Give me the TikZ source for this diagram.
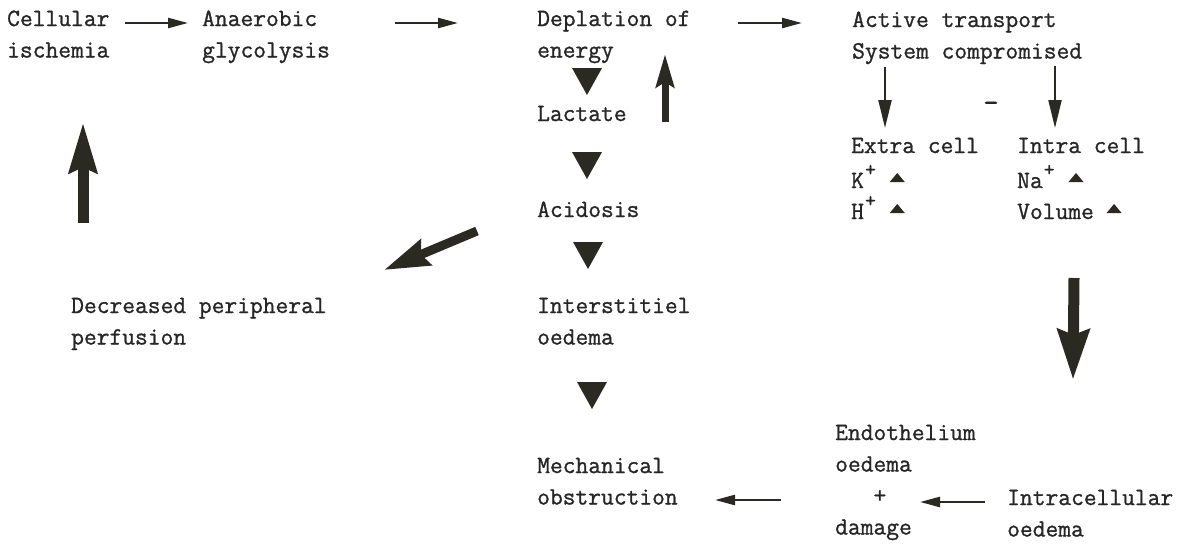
\documentclass[tikz,border=0pt]{standalone}
\usepackage{fontspec}
\usetikzlibrary{arrows.meta,calc}
\newfontfamily\twfont[FakeBold=1]{Latin Modern Mono}
\definecolor{ink}{HTML}{2B2A22}
\definecolor{inkt}{HTML}{262626}
\newcommand\mylines[1]{\begin{tabular}[t]{@{}l@{}}#1\end{tabular}}
\newcommand\uptri{\tikz[baseline=-6pt]\fill[ink] (0pt,0pt)--(15pt,0pt)--(7.5pt,9pt)--cycle;}
\newcommand\upplus{\makebox[13pt]{\raisebox{12pt}{\fontsize{21}{21}\selectfont +}}}
\begin{document}
\begin{tikzpicture}[x=1pt,y=-1pt,
  txt/.style={anchor=base west,inner sep=0pt,text=inkt,font=\twfont\fontsize{24.8}{31.5}\selectfont},
  thinarrow/.style={draw=ink,line width=2.4pt,-{Triangle[length=20pt,width=10pt]}},
  dropline/.style={draw=ink,line width=2.2pt,-{Triangle[length=28pt,width=13pt]}},
  bigarrow/.style n args={3}{draw=ink,line width=#1,-{Stealth[length=#3,width=#2,inset=5pt]}},
  downtri/.pic={\fill[ink] (-15,-13)--(15,-13)--(0,14)--cycle;}]
\fill[white] (0,0) rectangle (1191,544);
\useasboundingbox (0,0) rectangle (1191,544);
% text nodes
\node[txt] (cellular) at (7,26) {\mylines{Cellular\\ischemia}};
\node[txt] (anaerobic) at (202,26) {\mylines{Anaerobic\\glycolysis}};
\node[txt] (deplation) at (537,26) {\mylines{Deplation of\\energy}};
\node[txt] (active) at (852,27) {\mylines{Active transport\\System compromised}};
\node[txt] (lactate) at (537,121) {Lactate};
\node[txt] (acidosis) at (537,217) {Acidosis};
\node[txt] (interst) at (537,313) {\mylines{Interstitiel\\oedema}};
\node[txt] (mech) at (537,473) {\mylines{Mechanical\\obstruction}};
\node[txt] (decreased) at (71,313) {\mylines{Decreased peripheral\\perfusion}};
\node[txt] (extra) at (851,153) {Extra cell};
\node[txt] (kion) at (851,188) {K\upplus\ \uptri};
\node[txt] (hion) at (851,219) {H\upplus\ \uptri};
\node[txt] (intra) at (1017,153) {Intra cell};
\node[txt] (naion) at (1017,188) {Na\upplus\ \uptri};
\node[txt] (volume) at (1017,219) {Volume \uptri};
\node[txt,anchor=base,font=\twfont\fontsize{30}{30}\selectfont] (minus) at (991,112) {-};
\node[txt] (endo) at (835,440) {\mylines{Endothelium\\oedema\\\ \ \ +\\damage}};
\node[txt] (intracell) at (1007,505) {\mylines{Intracellular\\oedema}};
% arrow end points
\coordinate (a1s) at (125,23);  \coordinate (a1e) at (188,23);
\coordinate (a2s) at (395,23);  \coordinate (a2e) at (458,23);
\coordinate (a3s) at (738,23);  \coordinate (a3e) at (802,23);
\coordinate (d1s) at (885,67);  \coordinate (d1e) at (885,128);
\coordinate (d2s) at (1055,66); \coordinate (d2e) at (1055,128);
\coordinate (b1s) at (781,500); \coordinate (b1e) at (715,500);
\coordinate (b2s) at (985,502); \coordinate (b2e) at (920,502);
\coordinate (u1s) at (83,223);  \coordinate (u1e) at (83,122);
\coordinate (u2s) at (665,122); \coordinate (u2e) at (665,54);
\coordinate (v1s) at (1074,278); \coordinate (v1e) at (1073,380);
\coordinate (g1s) at (477,231); \coordinate (g1e) at (384,270);
% thin arrows
\draw[thinarrow] (a1s) -- (a1e);
\draw[thinarrow] (a2s) -- (a2e);
\draw[thinarrow] (a3s) -- (a3e);
\draw[dropline] (d1s) -- (d1e);
\draw[dropline] (d2s) -- (d2e);
\draw[thinarrow] (b1s) -- (b1e);
\draw[thinarrow] (b2s) -- (b2e);
% thick arrows
\draw[bigarrow={11pt}{27pt}{50pt}] (u1s) -- (u1e);
\draw[bigarrow={7pt}{18pt}{33pt}] (u2s) -- (u2e);
\draw[bigarrow={11pt}{31pt}{50pt}] (v1s) -- (v1e);
\draw[bigarrow={9pt}{27pt}{45pt}] (g1s) -- (g1e);
% downward arrowheads
\pic at (587,81) {downtri};
\pic at (587,165) {downtri};
\pic at (588,255) {downtri};
\pic at (592,395) {downtri};
\end{tikzpicture}
\end{document}
